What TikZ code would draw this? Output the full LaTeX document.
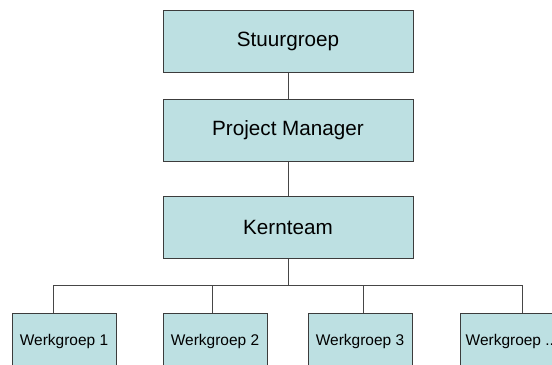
\documentclass[tikz,border=0pt]{standalone}
\usepackage{fontspec}
\setmainfont{Liberation Sans}
\usetikzlibrary{calc}
\definecolor{boxfill}{RGB}{189,224,226}
\definecolor{boxedge}{RGB}{60,60,60}
\definecolor{wire}{RGB}{70,70,70}
\begin{document}
\begin{tikzpicture}[x=0.75pt,y=-0.75pt,
  unit/.style={draw=boxedge, fill=boxfill, line width=0.75pt, inner sep=0pt,
    minimum width=187.5pt, minimum height=46.5pt,
    font=\fontsize{15.5}{18}\selectfont},
  team/.style={draw=boxedge, fill=boxfill, line width=0.75pt, inner sep=0pt,
    minimum width=78pt, minimum height=42pt,
    font=\fontsize{11.6}{14}\selectfont},
  link/.style={draw=wire, line width=0.75pt}]
\useasboundingbox (0,0) rectangle (552,364);
\clip (0,0) rectangle (552,364);
\fill[white] (0,0) rectangle (552,364);

% management chain
\node[unit] (stuur) at (288,41) {Stuurgroep};
\node[unit] (pm)    at (288,130) {Project Manager};
\node[unit] (kern)  at (288,227) {Kernteam};

% working groups
\node[team] (w1) at (64,341)  {Werkgroep 1};
\node[team] (w2) at (215,341) {Werkgroep 2};
\node[team] (w3) at (360,341) {Werkgroep 3};
\node[team] (w4) at (512,341) {Werkgroep ...};

% connectors
\coordinate (bus) at (288,285.7);
\coordinate (d1) at ($(w1.north)+(-11,0)$);
\coordinate (d2) at ($(w2.north)+(-3,0)$);
\coordinate (d3) at ($(w3.north)+(3,0)$);
\coordinate (d4) at ($(w4.north)+(10,0)$);

\draw[link] (stuur) -- (pm);
\draw[link] (pm) -- (kern);
\draw[link] (kern) -- (bus);
\draw[link] (d1) |- (bus) -| (d4);
\draw[link] (d2) -- (d2 |- bus);
\draw[link] (d3) -- (d3 |- bus);
\end{tikzpicture}
\end{document}
